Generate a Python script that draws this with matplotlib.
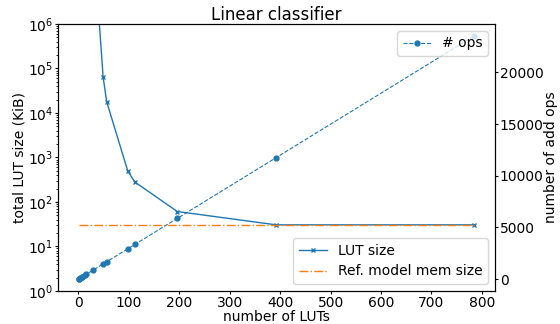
import numpy as np
import matplotlib
matplotlib.use('Agg')
import matplotlib.pyplot as plt

# divisors of 784 (28x28 inputs)
n_luts = [1, 2, 4, 7, 8, 14, 16, 28, 49, 56, 98, 112, 196, 392, 784]

# total LUT size in KiB (small n are far above the plotted range)
lut_size = [1e230, 1e116, 1e58, 1e33, 1e29, 1e15, 1e14, 1.5e8,
            6.4e4, 1.8e4, 490, 280, 61, 30.6, 30.6]

# number of add ops
n_ops = [20, 50, 110, 200, 230, 410, 470, 830, 1460, 1670,
         2930, 3350, 5870, 11750, 23510]

ref_x = [1, 784]
ref_mem = [30.6, 30.6]

fig = plt.figure(figsize=(5.6, 3.24), dpi=100)
ax1 = fig.add_axes([0.104, 0.102, 0.780, 0.824])

ax1.plot(n_luts, lut_size, 'x-', color='C0', lw=1, ms=3, label='LUT size')
ax1.plot(ref_x, ref_mem, '-.', color='C1', lw=1, label='Ref. model mem size')
ax1.set_yscale('log')
ax1.set_ylim(1, 1e6)
ax1.set_xlim(-40, 826)
ax1.set_xticks(range(0, 801, 100))
ax1.tick_params(which='major', length=2, pad=1.5)
ax1.tick_params(which='minor', length=1.2)
ax1.set_xlabel('number of LUTs', labelpad=0)
ax1.set_ylabel('total LUT size (KiB)', labelpad=1)
ax1.set_title('Linear classifier', fontsize=12, pad=3)
ax1.legend(loc='lower right')

ax2 = ax1.twinx()
ax2.plot(n_luts, n_ops, '.--', color='C0', lw=0.8, ms=7, label='# ops')
ax2.tick_params(length=2, pad=1.5)
ax2.set_ylabel('number of add ops', labelpad=0)
ax2.legend(loc='upper right')

fig.savefig('out.png', dpi=100)
